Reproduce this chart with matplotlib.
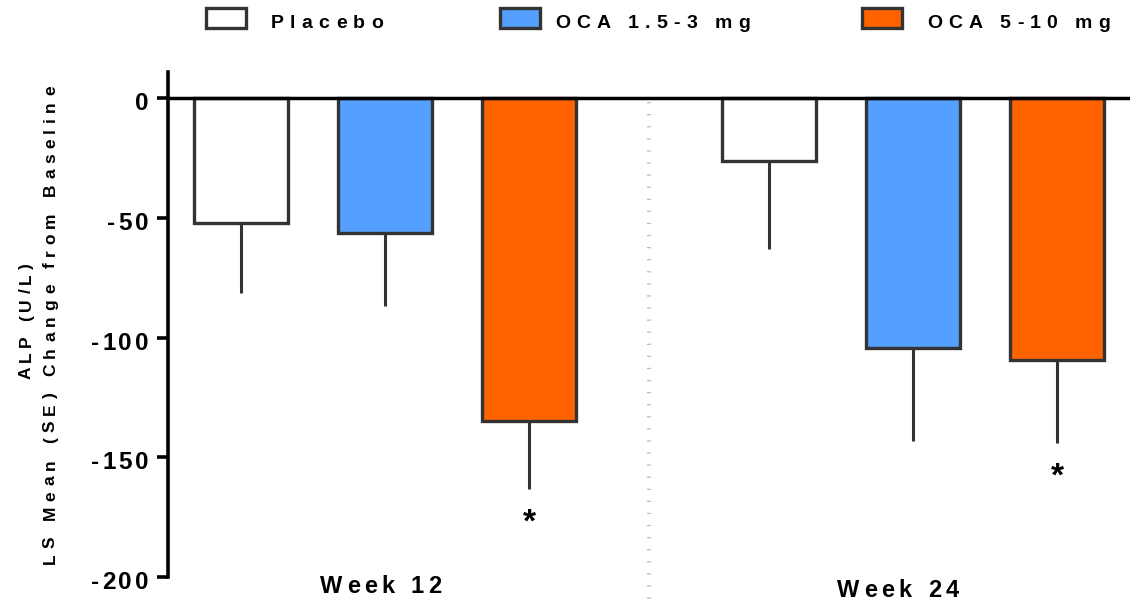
import matplotlib
matplotlib.use("Agg")
import matplotlib.pyplot as plt
import matplotlib.transforms as mtransforms
from matplotlib.font_manager import FontProperties
from matplotlib.patches import Rectangle
import numpy as np

# ---- data -------------------------------------------------------------
weeks = ["Week 12", "Week 24"]
series_names = ["Placebo", "OCA 1.5-3 mg", "OCA 5-10 mg"]

placebo_mean = [-52.1, -26.2]
placebo_se = [29.3, 36.8]
oca_low_mean = [-56.3, -104.4]
oca_low_se = [30.5, 38.9]
oca_high_mean = [-134.9, -109.4]
oca_high_se = [28.5, 34.7]

# significance flags (per series, per week)
placebo_sig = [False, False]
oca_low_sig = [False, False]
oca_high_sig = [True, True]

y_ticks = [0, -50, -100, -150, -200]

# ---- style ------------------------------------------------------------
W, H = 1134, 601
FONT = "Liberation Sans"
EDGE = "#333333"
fills = ["#FFFFFF", "#55A0FF", "#FF6300"]

fig = plt.figure(figsize=(W / 100, H / 100), dpi=100)
ax = fig.add_axes([168 / W, 1 - 577 / H, (1130 - 168) / W, (577 - 72) / H])
renderer = fig.canvas.get_renderer()


def tracked(s, x, y, transform, size, track, ha="left", angle=0,
            dx=0.0, dy=0.0, color="black"):
    """Draw letter-spaced bold text; track is extra spacing in pixels."""
    fp = FontProperties(family=FONT, weight="bold", size=size)

    def adv(t):
        if not t:
            return 0.0
        w1 = renderer.get_text_width_height_descent("l" + t + "l", fp, ismath=False)[0]
        w0 = renderer.get_text_width_height_descent("ll", fp, ismath=False)[0]
        return w1 - w0

    total = adv(s) + track * (len(s) - 1)
    start = {"left": 0.0, "center": -total / 2, "right": -total}[ha]
    c, sn = np.cos(np.radians(angle)), np.sin(np.radians(angle))
    for i, ch in enumerate(s):
        if ch == " ":
            continue
        d = start + adv(s[:i]) + track * i
        ax.annotate(ch, xy=(x, y), xycoords=transform,
                    xytext=(dx + d * c, dy + d * sn), textcoords="offset pixels",
                    rotation=angle, rotation_mode="anchor", ha="left",
                    va="baseline", fontproperties=fp, color=color,
                    annotation_clip=False)


# ---- bars -------------------------------------------------------------
bar_w = 0.653
group_gap = 3.667
means = [placebo_mean, oca_low_mean, oca_high_mean]
ses = [placebo_se, oca_low_se, oca_high_se]
sigs = [placebo_sig, oca_low_sig, oca_high_sig]

for si in range(len(series_names)):
    xs = np.arange(len(weeks)) * group_gap + si
    m = np.array(means[si])
    e = np.array(ses[si])
    ax.vlines(xs, m, m - e, color=EDGE, lw=2.2, zorder=2)
    ax.bar(xs, m, width=bar_w, color=fills[si], edgecolor=EDGE,
           linewidth=2.4, zorder=3)
    for xi, mi, ei, flag in zip(xs, m, e, sigs[si]):
        if flag:
            ax.text(xi, mi - ei - 14, "*", ha="center", va="center",
                    fontsize=24, fontweight="bold", family=FONT, zorder=4)

# dotted separator between weeks
sep_x = (len(series_names) - 1 + group_gap) / 2
ax.plot([sep_x, sep_x], [-1.5, -212], color="#bdbdbd", lw=3,
        dashes=(0.3, 2.6), clip_on=False, zorder=1)

# zero line
ax.axhline(0, color="black", lw=2.5, zorder=5)

# ---- axes -------------------------------------------------------------
ax.set_xlim(-0.507, 6.174)
ax.set_ylim(-200, 11)
for side in ["top", "right", "bottom"]:
    ax.spines[side].set_visible(False)
ax.spines["left"].set_linewidth(2.6)
ax.spines["left"].set_color("black")
ax.set_xticks([])
ax.set_yticks(y_ticks)
ax.set_yticklabels([])
ax.tick_params(axis="y", direction="out", length=8, width=2.6, color="black")

ytrans = ax.get_yaxis_transform()
for v in y_ticks:
    tracked(str(v), 0, v, ytrans, 17.5, 2.8, ha="right", dx=-20, dy=-12)

# week labels
btrans = mtransforms.blended_transform_factory(ax.transData, fig.transFigure)
week_label_x = [0.97, 4.5625]
week_label_base = [593, 597]
for lbl, lx, by in zip(weeks, week_label_x, week_label_base):
    tracked(lbl, lx, 1 - by / H, btrans, 17, 4.6, ha="center")

# y-axis title (two lines, rotated)
tracked("ALP (U/L)", 31 / W, 1 - 321 / H, fig.transFigure, 12.5, 4.7,
        ha="center", angle=90)
tracked("LS Mean (SE) Change from Baseline", 55 / W, 1 - 325 / H,
        fig.transFigure, 12.5, 5.6, ha="center", angle=90)

# ---- legend -----------------------------------------------------------
box_left = [206, 500, 862]
text_left = [271, 555, 927]
for name, col, bx, tx in zip(series_names, fills, box_left, text_left):
    fig.patches.append(Rectangle((bx / W, 1 - 28 / H), 40 / W, 20 / H,
                                 transform=fig.transFigure, facecolor=col,
                                 edgecolor=EDGE, linewidth=2.4))
    tracked(name, tx / W, 1 - 28 / H, fig.transFigure, 14, 6.2, ha="left")

fig.savefig("out.png", dpi=100)
